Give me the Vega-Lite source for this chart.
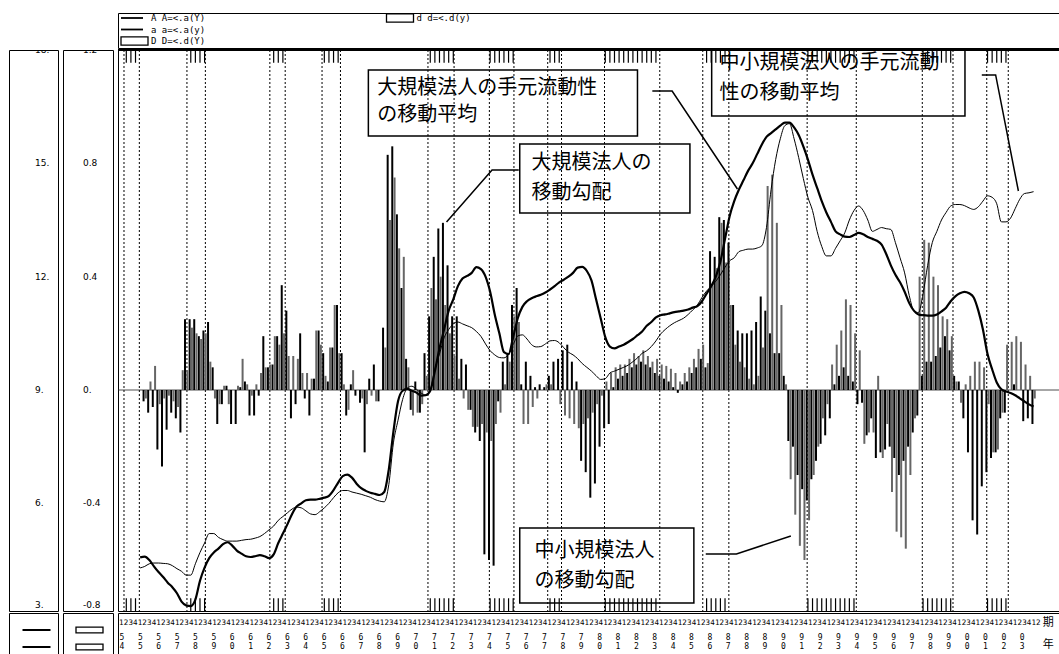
{
"$schema":"https://vega.github.io/schema/vega-lite/v6.json",
"background":"white",
"padding":{"left":8,"top":10,"right":0,"bottom":0},
"bounds":"flush",
"columns":3,
"spacing":{"row":2,"column":5},
"config":{"view":{"stroke":"black","strokeWidth":1}},
"datasets":{
"leg":[{"col":0,"row":0,"sym":"line","lab":"A A=<.a(Y)"},{"col":0,"row":1,"sym":"line","lab":"a a=<.a(y)"},{"col":0,"row":2,"sym":"box","lab":"D D=<.d(Y)"},{"col":1,"row":0,"sym":"box","lab":"d d=<.d(y)"}],
"liqTicks":[{"v":18,"lab":"18."},{"v":15,"lab":"15."},{"v":12,"lab":"12."},{"v":9,"lab":"9."},{"v":6,"lab":"6."},{"v":3,"lab":"3."}],
"grdTicks":[{"v":1.2,"lab":"1.2"},{"v":0.8,"lab":"0.8"},{"v":0.4,"lab":"0.4"},{"v":0,"lab":"0."},{"v":-0.4,"lab":"-0.4"},{"v":-0.8,"lab":"-0.8"}],
"rec":[{"s":1954.0,"e":1954.833},{"s":1957.417,"e":1958.417},{"s":1961.917,"e":1962.75},{"s":1964.75,"e":1965.75},{"s":1970.5,"e":1971.917},{"s":1973.833,"e":1975.167},{"s":1977.0,"e":1977.75},{"s":1980.083,"e":1983.083},{"s":1985.417,"e":1986.833},{"s":1991.083,"e":1993.75},{"s":1997.333,"e":1999.0},{"s":2000.833,"e":2002.0}],
"box":[{"t1":1967.265,"t2":1981.873,"g1":1.1295,"g2":0.8966},{"t1":1985.901,"t2":1999.65,"g1":1.2,"g2":0.9672},{"t1":1975.482,"t2":1984.72,"g1":0.8683,"g2":0.6248},{"t1":1975.482,"t2":1984.934,"g1":-0.4871,"g2":-0.7519}],
"ann":[{"t":1967.749,"g":1.066,"txt":"大規模法人の手元流動性"},{"t":1967.749,"g":0.9707,"txt":"の移動平均"},{"t":1986.331,"g":1.1543,"txt":"中小規模法人の手元流動"},{"t":1986.331,"g":1.0484,"txt":"性の移動平均"},{"t":1976.127,"g":0.8013,"txt":"大規模法人の"},{"t":1976.127,"g":0.6954,"txt":"移動勾配"},{"t":1976.288,"g":-0.5683,"txt":"中小規模法人"},{"t":1976.288,"g":-0.6742,"txt":"の移動勾配"}],
"ptr":[{"id":1,"o":0,"t":1982.679,"g":1.0554},{"id":1,"o":1,"t":1983.753,"g":1.0554},{"id":1,"o":2,"t":1987.298,"g":0.7095},{"id":2,"o":0,"t":2000.563,"g":1.1119},{"id":2,"o":1,"t":2001.315,"g":1.1119},{"id":2,"o":2,"t":2002.55,"g":0.7024},{"id":3,"o":0,"t":1975.428,"g":0.7766},{"id":3,"o":1,"t":1973.979,"g":0.7766},{"id":3,"o":2,"t":1971.508,"g":0.593},{"id":4,"o":0,"t":1985.579,"g":-0.5789},{"id":4,"o":1,"t":1987.244,"g":-0.5789},{"id":4,"o":2,"t":1990.198,"g":-0.5154}],
"hdr":[{"t":2003.9,"lab":"期","row":0},{"t":2003.9,"lab":"年","row":1}],
"yrs":[{"yr":1954,"lab":"5\n4"},{"yr":1955,"lab":"5\n5"},{"yr":1956,"lab":"5\n6"},{"yr":1957,"lab":"5\n7"},{"yr":1958,"lab":"5\n8"},{"yr":1959,"lab":"5\n9"},{"yr":1960,"lab":"6\n0"},{"yr":1961,"lab":"6\n1"},{"yr":1962,"lab":"6\n2"},{"yr":1963,"lab":"6\n3"},{"yr":1964,"lab":"6\n4"},{"yr":1965,"lab":"6\n5"},{"yr":1966,"lab":"6\n6"},{"yr":1967,"lab":"6\n7"},{"yr":1968,"lab":"6\n8"},{"yr":1969,"lab":"6\n9"},{"yr":1970,"lab":"7\n0"},{"yr":1971,"lab":"7\n1"},{"yr":1972,"lab":"7\n2"},{"yr":1973,"lab":"7\n3"},{"yr":1974,"lab":"7\n4"},{"yr":1975,"lab":"7\n5"},{"yr":1976,"lab":"7\n6"},{"yr":1977,"lab":"7\n7"},{"yr":1978,"lab":"7\n8"},{"yr":1979,"lab":"7\n9"},{"yr":1980,"lab":"8\n0"},{"yr":1981,"lab":"8\n1"},{"yr":1982,"lab":"8\n2"},{"yr":1983,"lab":"8\n3"},{"yr":1984,"lab":"8\n4"},{"yr":1985,"lab":"8\n5"},{"yr":1986,"lab":"8\n6"},{"yr":1987,"lab":"8\n7"},{"yr":1988,"lab":"8\n8"},{"yr":1989,"lab":"8\n9"},{"yr":1990,"lab":"9\n0"},{"yr":1991,"lab":"9\n1"},{"yr":1992,"lab":"9\n2"},{"yr":1993,"lab":"9\n3"},{"yr":1994,"lab":"9\n4"},{"yr":1995,"lab":"9\n5"},{"yr":1996,"lab":"9\n6"},{"yr":1997,"lab":"9\n7"},{"yr":1998,"lab":"9\n8"},{"yr":1999,"lab":"9\n9"},{"yr":2000,"lab":"0\n0"},{"yr":2001,"lab":"0\n1"},{"yr":2002,"lab":"0\n2"},{"yr":2003,"lab":"0\n3"}],
"qtr":[
{"t":1954.125,"q":"1","r":1},{"t":1954.375,"q":"2","r":1},{"t":1954.625,"q":"3","r":1},{"t":1954.875,"q":"4","A":4.57,"a":4.29},
{"t":1955.125,"q":"1","A":4.59,"a":4.33,"D":-0.04,"d":-0.03},{"t":1955.375,"q":"2","A":4.5,"a":4.4,"D":-0.08,"d":0.03},{"t":1955.625,"q":"3","A":4.33,"a":4.42,"D":-0.06,"d":0.085},{"t":1955.875,"q":"4","A":4.18,"a":4.42,"D":-0.21,"d":-0.05},
{"t":1956.125,"q":"1","A":4.05,"a":4.41,"D":-0.27,"d":-0.03},{"t":1956.375,"q":"2","A":3.9,"a":4.4,"D":-0.14,"d":-0.02},{"t":1956.625,"q":"3","A":3.78,"a":4.35,"D":-0.08,"d":-0.04},{"t":1956.875,"q":"4","A":3.62,"a":4.27,"D":-0.1,"d":-0.06},
{"t":1957.125,"q":"1","A":3.4,"a":4.2,"D":-0.15,"d":0.07},{"t":1957.375,"q":"2","A":3.3,"a":4.1,"D":0.25,"d":0.07},{"t":1957.625,"q":"3","A":3.28,"a":4.1,"D":0.25,"d":0.22,"r":1},{"t":1957.875,"q":"4","A":3.45,"a":4.4,"D":0.25,"d":0.2,"r":1},
{"t":1958.125,"q":"1","A":3.95,"a":4.7,"D":0.19,"d":0.18,"r":1},{"t":1958.375,"q":"2","A":4.3,"a":4.95,"D":0.21,"d":0.2,"r":1},{"t":1958.625,"q":"3","A":4.55,"a":5.2,"D":0.24,"d":0.1},{"t":1958.875,"q":"4","A":4.7,"a":5.2,"D":0.08,"d":-0.03},
{"t":1959.125,"q":"1","A":4.8,"a":5.1,"D":-0.12,"d":-0.05},{"t":1959.375,"q":"2","A":4.92,"a":5.04,"D":-0.05,"d":0.015},{"t":1959.625,"q":"3","A":4.97,"a":5.0,"D":0.015,"d":-0.05},{"t":1959.875,"q":"4","A":4.88,"a":5.0,"D":-0.12,"d":0},
{"t":1960.125,"q":"1","A":4.75,"a":5.0,"D":-0.12,"d":0.015},{"t":1960.375,"q":"2","A":4.67,"a":5.02,"D":0.01,"d":0.11},{"t":1960.625,"q":"3","A":4.6,"a":5.04,"D":0.03,"d":0.02},{"t":1960.875,"q":"4","A":4.58,"a":5.05,"D":-0.09,"d":-0.02},
{"t":1961.125,"q":"1","A":4.6,"a":5.08,"D":-0.09,"d":0.02},{"t":1961.375,"q":"2","A":4.63,"a":5.12,"D":-0.02,"d":0.06},{"t":1961.625,"q":"3","A":4.6,"a":5.2,"D":0.19,"d":0.08},{"t":1961.875,"q":"4","A":4.55,"a":5.3,"D":0.08,"d":0.09},
{"t":1962.125,"q":"1","A":4.65,"a":5.4,"D":0.09,"d":0.19,"r":1},{"t":1962.375,"q":"2","A":4.95,"a":5.55,"D":0.19,"d":0.16,"r":1},{"t":1962.625,"q":"3","A":5.2,"a":5.65,"D":0.37,"d":0.2,"r":1},{"t":1962.875,"q":"4","A":5.45,"a":5.75,"D":0.28,"d":0.12},
{"t":1963.125,"q":"1","A":5.72,"a":5.85,"D":-0.1,"d":0.12},{"t":1963.375,"q":"2","A":5.92,"a":5.9,"D":-0.05,"d":0.11},{"t":1963.625,"q":"3","A":6.0,"a":5.88,"D":0.2,"d":0.06},{"t":1963.875,"q":"4","A":6.08,"a":5.8,"D":-0.03,"d":0.06},
{"t":1964.125,"q":"1","A":6.1,"a":5.72,"D":-0.09,"d":0.04},{"t":1964.375,"q":"2","A":6.1,"a":5.7,"D":0.04,"d":0.21},{"t":1964.625,"q":"3","A":6.12,"a":5.78,"D":0.21,"d":0.16},{"t":1964.875,"q":"4","A":6.15,"a":5.88,"D":0.13,"d":0.05,"r":1},
{"t":1965.125,"q":"1","A":6.2,"a":6.0,"D":0.03,"d":0.15,"r":1},{"t":1965.375,"q":"2","A":6.35,"a":6.15,"D":0.15,"d":0.3,"r":1},{"t":1965.625,"q":"3","A":6.55,"a":6.28,"D":0.3,"d":0.13,"r":1},{"t":1965.875,"q":"4","A":6.72,"a":6.34,"D":0.13,"d":0.02},
{"t":1966.125,"q":"1","A":6.76,"a":6.34,"D":-0.09,"d":-0.07},{"t":1966.375,"q":"2","A":6.68,"a":6.3,"D":0.02,"d":0.07},{"t":1966.625,"q":"3","A":6.52,"a":6.27,"D":-0.02,"d":0},{"t":1966.875,"q":"4","A":6.4,"a":6.24,"D":-0.045,"d":-0.03},
{"t":1967.125,"q":"1","A":6.33,"a":6.2,"D":-0.22,"d":-0.05},{"t":1967.375,"q":"2","A":6.28,"a":6.16,"D":0.04,"d":-0.02},{"t":1967.625,"q":"3","A":6.25,"a":6.1,"D":0.09,"d":-0.04},{"t":1967.875,"q":"4","A":6.22,"a":6.06,"D":-0.04,"d":0},
{"t":1968.125,"q":"1","A":6.3,"a":6.04,"D":0.22,"d":0.15},{"t":1968.375,"q":"2","A":6.9,"a":6.5,"D":0.83,"d":0.6},{"t":1968.625,"q":"3","A":7.9,"a":7.6,"D":0.86,"d":0.75},{"t":1968.875,"q":"4","A":8.7,"a":8.2,"D":0.62,"d":0.5},
{"t":1969.125,"q":"1","A":8.98,"a":8.75,"D":0.36,"d":0.47},{"t":1969.375,"q":"2","A":9.03,"a":9.05,"D":0.11,"d":0.08},{"t":1969.625,"q":"3","A":8.98,"a":9.1,"D":-0.07,"d":-0.09},{"t":1969.875,"q":"4","A":8.93,"a":9.02,"D":0.03,"d":-0.08},
{"t":1970.125,"q":"1","A":8.85,"a":8.92,"D":-0.08,"d":-0.05},{"t":1970.375,"q":"2","A":8.86,"a":8.87,"D":0.13,"d":0.05},{"t":1970.625,"q":"3","A":8.98,"a":9.0,"D":0.26,"d":0.36,"r":1},{"t":1970.875,"q":"4","A":9.5,"a":9.55,"D":0.47,"d":0.32,"r":1},
{"t":1971.125,"q":"1","A":10.1,"a":9.95,"D":0.57,"d":0.4,"r":1},{"t":1971.375,"q":"2","A":10.6,"a":10.38,"D":0.59,"d":0.3,"r":1},{"t":1971.625,"q":"3","A":11.1,"a":10.6,"D":0.44,"d":0.2,"r":1},{"t":1971.875,"q":"4","A":11.4,"a":10.75,"D":0.26,"d":0.12,"r":1},
{"t":1972.125,"q":"1","A":11.75,"a":10.8,"D":0.26,"d":0.04},{"t":1972.375,"q":"2","A":11.95,"a":10.75,"D":0.11,"d":-0.03},{"t":1972.625,"q":"3","A":12.02,"a":10.7,"D":0.09,"d":-0.07},{"t":1972.875,"q":"4","A":12.1,"a":10.65,"D":-0.07,"d":-0.13},
{"t":1973.125,"q":"1","A":12.25,"a":10.55,"D":-0.15,"d":-0.13},{"t":1973.375,"q":"2","A":12.2,"a":10.42,"D":-0.18,"d":-0.12},{"t":1973.625,"q":"3","A":12.0,"a":10.22,"D":-0.58,"d":-0.15},{"t":1973.875,"q":"4","A":11.6,"a":10.04,"D":-0.6,"d":-0.18,"r":1},
{"t":1974.125,"q":"1","A":11.0,"a":9.93,"D":-0.62,"d":-0.12,"r":1},{"t":1974.375,"q":"2","A":10.5,"a":9.86,"D":-0.04,"d":-0.08,"r":1},{"t":1974.625,"q":"3","A":10.0,"a":9.85,"D":0.1,"d":0.02,"r":1},{"t":1974.875,"q":"4","A":9.95,"a":9.95,"D":0.13,"d":0.1,"r":1},
{"t":1975.125,"q":"1","A":10.4,"a":10.2,"D":0.3,"d":0.26,"r":1},{"t":1975.375,"q":"2","A":10.9,"a":10.43,"D":0.36,"d":0.24},{"t":1975.625,"q":"3","A":11.2,"a":10.46,"D":0.02,"d":-0.12},{"t":1975.875,"q":"4","A":11.35,"a":10.35,"D":0.1,"d":-0.12},
{"t":1976.125,"q":"1","A":11.43,"a":10.2,"D":0.05,"d":-0.06},{"t":1976.375,"q":"2","A":11.48,"a":10.14,"D":0.01,"d":-0.03},{"t":1976.625,"q":"3","A":11.52,"a":10.15,"D":0.02,"d":0},{"t":1976.875,"q":"4","A":11.58,"a":10.22,"D":0.01,"d":0.02},
{"t":1977.125,"q":"1","A":11.66,"a":10.3,"D":0.05,"d":0.02,"r":1},{"t":1977.375,"q":"2","A":11.75,"a":10.31,"D":0.1,"d":0,"r":1},{"t":1977.625,"q":"3","A":11.85,"a":10.25,"D":0.11,"d":-0.05,"r":1},{"t":1977.875,"q":"4","A":11.92,"a":10.12,"D":0.14,"d":-0.09},
{"t":1978.125,"q":"1","A":12.0,"a":10.0,"D":0.16,"d":-0.1},{"t":1978.375,"q":"2","A":12.1,"a":9.93,"D":0.1,"d":-0.12},{"t":1978.625,"q":"3","A":12.24,"a":9.83,"D":0.03,"d":-0.135},{"t":1978.875,"q":"4","A":12.26,"a":9.7,"D":-0.25,"d":-0.12},
{"t":1979.125,"q":"1","A":12.15,"a":9.6,"D":-0.29,"d":-0.1},{"t":1979.375,"q":"2","A":11.9,"a":9.5,"D":-0.38,"d":-0.08},{"t":1979.625,"q":"3","A":11.4,"a":9.38,"D":-0.33,"d":-0.05},{"t":1979.875,"q":"4","A":10.9,"a":9.28,"D":-0.2,"d":-0.02},
{"t":1980.125,"q":"1","A":10.4,"a":9.3,"D":-0.135,"d":0.03,"r":1},{"t":1980.375,"q":"2","A":10.15,"a":9.45,"D":-0.12,"d":0.06,"r":1},{"t":1980.625,"q":"3","A":10.1,"a":9.5,"D":0.01,"d":0.08,"r":1},{"t":1980.875,"q":"4","A":10.15,"a":9.55,"D":0.04,"d":0.09,"r":1},
{"t":1981.125,"q":"1","A":10.2,"a":9.6,"D":0.05,"d":0.09,"r":1},{"t":1981.375,"q":"2","A":10.27,"a":9.66,"D":0.06,"d":0.11,"r":1},{"t":1981.625,"q":"3","A":10.35,"a":9.75,"D":0.08,"d":0.13,"r":1},{"t":1981.875,"q":"4","A":10.45,"a":9.85,"D":0.09,"d":0.12,"r":1},
{"t":1982.125,"q":"1","A":10.55,"a":9.97,"D":0.1,"d":0.14,"r":1},{"t":1982.375,"q":"2","A":10.7,"a":10.04,"D":0.09,"d":0.12,"r":1},{"t":1982.625,"q":"3","A":10.8,"a":10.15,"D":0.08,"d":0.1,"r":1},{"t":1982.875,"q":"4","A":10.92,"a":10.3,"D":0.06,"d":0.11,"r":1},
{"t":1983.125,"q":"1","A":10.98,"a":10.48,"D":0.05,"d":0.09},{"t":1983.375,"q":"2","A":11.0,"a":10.6,"D":0.04,"d":0.085},{"t":1983.625,"q":"3","A":11.03,"a":10.7,"D":0.03,"d":0.075},{"t":1983.875,"q":"4","A":11.06,"a":10.78,"D":0.01,"d":0.06},
{"t":1984.125,"q":"1","A":11.08,"a":10.84,"D":-0.01,"d":0.03},{"t":1984.375,"q":"2","A":11.1,"a":10.9,"D":0.02,"d":0.06},{"t":1984.625,"q":"3","A":11.13,"a":11.0,"D":0.03,"d":0.08},{"t":1984.875,"q":"4","A":11.18,"a":11.12,"D":0.06,"d":0.11},
{"t":1985.125,"q":"1","A":11.22,"a":11.25,"D":0.08,"d":0.145},{"t":1985.375,"q":"2","A":11.35,"a":11.45,"D":0.11,"d":0.16},{"t":1985.625,"q":"3","A":11.55,"a":11.62,"D":0.08,"d":0.095,"r":1},{"t":1985.875,"q":"4","A":11.75,"a":11.74,"D":0.49,"d":0.37,"r":1},
{"t":1986.125,"q":"1","A":12.0,"a":11.88,"D":0.47,"d":0.43,"r":1},{"t":1986.375,"q":"2","A":12.4,"a":12.05,"D":0.61,"d":0.59,"r":1},{"t":1986.625,"q":"3","A":13.0,"a":12.25,"D":0.6,"d":0.45,"r":1},{"t":1986.875,"q":"4","A":13.6,"a":12.42,"D":0.52,"d":0.3},
{"t":1987.125,"q":"1","A":14.0,"a":12.5,"D":0.3,"d":0.16},{"t":1987.375,"q":"2","A":14.3,"a":12.66,"D":0.21,"d":0.1},{"t":1987.625,"q":"3","A":14.55,"a":12.7,"D":0.2,"d":0.08},{"t":1987.875,"q":"4","A":14.8,"a":12.73,"D":0.2,"d":0.04},
{"t":1988.125,"q":"1","A":15.0,"a":12.73,"D":0.21,"d":0.02},{"t":1988.375,"q":"2","A":15.25,"a":12.76,"D":0.24,"d":0.05},{"t":1988.625,"q":"3","A":15.5,"a":12.82,"D":0.33,"d":0.15},{"t":1988.875,"q":"4","A":15.7,"a":13.3,"D":0.28,"d":0.72},
{"t":1989.125,"q":"1","A":15.8,"a":14.3,"D":0.2,"d":0.76},{"t":1989.375,"q":"2","A":15.9,"a":15.1,"D":0.13,"d":0.59},{"t":1989.625,"q":"3","A":16.0,"a":15.65,"D":0.13,"d":0.3},{"t":1989.875,"q":"4","A":16.08,"a":16.0,"D":0.05,"d":0.02},
{"t":1990.125,"q":"1","A":16.08,"a":16.05,"D":-0.18,"d":-0.315},{"t":1990.375,"q":"2","A":15.95,"a":15.65,"D":-0.2,"d":-0.44},{"t":1990.625,"q":"3","A":15.75,"a":15.15,"D":-0.3,"d":-0.55},{"t":1990.875,"q":"4","A":15.45,"a":14.6,"D":-0.35,"d":-0.6},
{"t":1991.125,"q":"1","A":15.1,"a":14.1,"D":-0.39,"d":-0.46,"r":1},{"t":1991.375,"q":"2","A":14.7,"a":13.75,"D":-0.315,"d":-0.3,"r":1},{"t":1991.625,"q":"3","A":14.35,"a":13.2,"D":-0.25,"d":-0.2,"r":1},{"t":1991.875,"q":"4","A":14.0,"a":12.8,"D":-0.19,"d":-0.1,"r":1},
{"t":1992.125,"q":"1","A":13.7,"a":12.55,"D":-0.16,"d":-0.05,"r":1},{"t":1992.375,"q":"2","A":13.45,"a":12.55,"D":-0.1,"d":0.09,"r":1},{"t":1992.625,"q":"3","A":13.2,"a":12.75,"D":0.02,"d":0.16,"r":1},{"t":1992.875,"q":"4","A":13.12,"a":12.95,"D":0.05,"d":0.21,"r":1},
{"t":1993.125,"q":"1","A":13.06,"a":13.16,"D":0.08,"d":0.32,"r":1},{"t":1993.375,"q":"2","A":13.05,"a":13.5,"D":0.05,"d":0.3,"r":1},{"t":1993.625,"q":"3","A":13.1,"a":13.75,"D":0.03,"d":0.2,"r":1},{"t":1993.875,"q":"4","A":13.16,"a":13.87,"D":-0.05,"d":0.14},
{"t":1994.125,"q":"1","A":13.12,"a":13.75,"D":-0.045,"d":-0.19},{"t":1994.375,"q":"2","A":13.05,"a":13.5,"D":-0.16,"d":-0.15},{"t":1994.625,"q":"3","A":13.0,"a":13.2,"D":-0.1,"d":-0.15},{"t":1994.875,"q":"4","A":12.95,"a":13.25,"D":-0.24,"d":0.05},
{"t":1995.125,"q":"1","A":12.85,"a":13.3,"D":-0.22,"d":-0.24},{"t":1995.375,"q":"2","A":12.6,"a":13.27,"D":-0.21,"d":-0.12},{"t":1995.625,"q":"3","A":12.3,"a":13.25,"D":-0.2,"d":-0.36},{"t":1995.875,"q":"4","A":12.05,"a":12.9,"D":-0.24,"d":-0.5},
{"t":1996.125,"q":"1","A":11.85,"a":12.5,"D":-0.3,"d":-0.52},{"t":1996.375,"q":"2","A":11.6,"a":12.1,"D":-0.25,"d":-0.56},{"t":1996.625,"q":"3","A":11.3,"a":11.5,"D":-0.2,"d":-0.3},{"t":1996.875,"q":"4","A":11.1,"a":11.1,"D":-0.15,"d":-0.1},
{"t":1997.125,"q":"1","A":11.0,"a":11.05,"D":-0.09,"d":0.4},{"t":1997.375,"q":"2","A":10.98,"a":11.55,"D":0.05,"d":0.53,"r":1},{"t":1997.625,"q":"3","A":10.97,"a":12.3,"D":0.1,"d":0.52,"r":1},{"t":1997.875,"q":"4","A":10.97,"a":12.9,"D":0.1,"d":0.4,"r":1},
{"t":1998.125,"q":"1","A":11.0,"a":13.2,"D":0.12,"d":0.37,"r":1},{"t":1998.375,"q":"2","A":11.08,"a":13.5,"D":0.15,"d":0.26,"r":1},{"t":1998.625,"q":"3","A":11.18,"a":13.7,"D":0.19,"d":0.25,"r":1},{"t":1998.875,"q":"4","A":11.35,"a":13.87,"D":0.14,"d":0.19,"r":1},
{"t":1999.125,"q":"1","A":11.48,"a":13.91,"D":0.05,"d":0.03},{"t":1999.375,"q":"2","A":11.56,"a":13.91,"D":0.03,"d":-0.045},{"t":1999.625,"q":"3","A":11.6,"a":13.88,"D":-0.1,"d":0.02},{"t":1999.875,"q":"4","A":11.56,"a":13.82,"D":-0.22,"d":0.05},
{"t":2000.125,"q":"1","A":11.45,"a":13.78,"D":-0.46,"d":0.1},{"t":2000.375,"q":"2","A":11.1,"a":13.85,"D":-0.51,"d":0.1},{"t":2000.625,"q":"3","A":10.6,"a":14.0,"D":-0.34,"d":0.08},{"t":2000.875,"q":"4","A":9.95,"a":14.14,"D":-0.29,"d":-0.05,"r":1},
{"t":2001.125,"q":"1","A":9.55,"a":14.1,"D":-0.24,"d":-0.22,"r":1},{"t":2001.375,"q":"2","A":9.2,"a":13.93,"D":-0.22,"d":-0.21,"r":1},{"t":2001.625,"q":"3","A":9.02,"a":13.45,"D":-0.1,"d":-0.08,"r":1},{"t":2001.875,"q":"4","A":8.96,"a":13.45,"D":-0.08,"d":0.16,"r":1},
{"t":2002.125,"q":"1","A":8.92,"a":13.55,"D":0,"d":0.17},{"t":2002.375,"q":"2","A":8.86,"a":13.8,"D":0.02,"d":0.19},{"t":2002.625,"q":"3","A":8.78,"a":14.05,"D":0,"d":0.17},{"t":2002.875,"q":"4","A":8.7,"a":14.2,"D":-0.11,"d":0.09},
{"t":2003.125,"q":"1","A":8.62,"a":14.22,"D":-0.1,"d":0.05},{"t":2003.375,"q":"2","A":8.56,"a":14.25,"D":-0.12,"d":-0.03}
]},
"concat":[
 {"width":49,"height":35,"view":{"stroke":null},"data":{"values":[]},"mark":"point"},
 {"width":50,"height":35,"view":{"stroke":null},"data":{"values":[]},"mark":"point"},
 {"width":942,"height":35,"data":{"name":"leg"},"layer":[
  {"transform":[{"filter":"datum.sym == 'line'"}],"mark":{"type":"point","shape":"M-1,0H1","size":484,"filled":false,"stroke":"black","strokeWidth":1.8,"opacity":1},
   "encoding":{"x":{"field":"col","type":"quantitative","scale":{"domain":[0,1],"range":[14,279.5],"nice":false,"zero":false},"axis":null},
               "y":{"field":"row","type":"quantitative","scale":{"domain":[0,2],"range":[5,28],"nice":false,"zero":false},"axis":null}}},
  {"transform":[{"filter":"datum.sym == 'box'"}],"mark":{"type":"point","shape":"M-1,-0.3H1V0.3H-1Z","size":729,"filled":false,"stroke":"black","strokeWidth":1.3,"opacity":1,"xOffset":2.5},
   "encoding":{"x":{"field":"col","type":"quantitative","scale":{"domain":[0,1],"range":[14,279.5],"nice":false,"zero":false},"axis":null},
               "y":{"field":"row","type":"quantitative","scale":{"domain":[0,2],"range":[5,28],"nice":false,"zero":false},"axis":null}}},
  {"mark":{"type":"text","align":"left","baseline":"middle","dx":19,"font":"DejaVu Sans Mono","fontSize":9,"color":"black"},
   "encoding":{"x":{"field":"col","type":"quantitative","scale":{"domain":[0,1],"range":[14,279.5],"nice":false,"zero":false},"axis":null},
               "y":{"field":"row","type":"quantitative","scale":{"domain":[0,2],"range":[5,28],"nice":false,"zero":false},"axis":null},
               "text":{"field":"lab"}}}
 ]},
 {"width":49,"height":561,"data":{"name":"liqTicks"},"layer":[
  {"transform":[{"filter":"datum.v > 3"}],"mark":{"type":"text","align":"left","dx":1.5,"baseline":"middle","font":"DejaVu Sans","fontSize":9,"clip":true,"color":"black"},
   "encoding":{"y":{"field":"v","type":"quantitative","scale":{"domain":[3.15,18],"nice":false,"zero":false,"clamp":true},"axis":null},"text":{"field":"lab"}}},
  {"transform":[{"filter":"datum.v == 3"}],"mark":{"type":"text","align":"left","dx":1.5,"baseline":"bottom","dy":-1,"font":"DejaVu Sans","fontSize":9,"color":"black"},
   "encoding":{"y":{"field":"v","type":"quantitative","scale":{"domain":[3.15,18],"nice":false,"zero":false,"clamp":true},"axis":null},"text":{"field":"lab"}}}
 ]},
 {"width":50,"height":561,"data":{"name":"grdTicks"},"layer":[
  {"transform":[{"filter":"datum.v > -0.8"}],"mark":{"type":"text","align":"left","dx":-5,"baseline":"middle","font":"DejaVu Sans","fontSize":9,"clip":true,"color":"black"},
   "encoding":{"y":{"field":"v","type":"quantitative","scale":{"domain":[-0.78,1.2],"nice":false,"zero":false,"clamp":true},"axis":null},"text":{"field":"lab"}}},
  {"transform":[{"filter":"datum.v == -0.8"}],"mark":{"type":"text","align":"left","dx":-5,"baseline":"bottom","dy":-1,"font":"DejaVu Sans","fontSize":9,"color":"black"},
   "encoding":{"y":{"field":"v","type":"quantitative","scale":{"domain":[-0.78,1.2],"nice":false,"zero":false,"clamp":true},"axis":null},"text":{"field":"lab"}}}
 ]},
 {"width":942,"height":561,"resolve":{"scale":{"y":"independent"}},"layer":[
  {"data":{"name":"rec"},"mark":{"type":"rule","strokeDash":[2,2],"strokeWidth":1,"color":"black"},
   "encoding":{"x":{"field":"s","type":"quantitative","scale":{"domain":[1953.946,2004.537],"nice":false,"zero":false},"axis":null}}},
  {"data":{"name":"rec"},"mark":{"type":"rule","strokeDash":[2,2],"strokeWidth":1,"color":"black"},
   "encoding":{"x":{"field":"e","type":"quantitative","scale":{"domain":[1953.946,2004.537],"nice":false,"zero":false},"axis":null}}},
  {"data":{"name":"qtr"},"transform":[{"filter":"datum.r == 1"}],"mark":{"type":"rule","strokeWidth":1.2,"color":"black"},
   "encoding":{"x":{"field":"t","type":"quantitative","scale":{"domain":[1953.946,2004.537],"nice":false,"zero":false},"axis":null},
               "y":{"datum":1.2,"scale":{"domain":[-0.78,1.2],"nice":false,"zero":false},"axis":null},"y2":{"datum":1.155}}},
  {"data":{"name":"qtr"},"transform":[{"filter":"datum.r == 1"}],"mark":{"type":"rule","strokeWidth":1.2,"color":"black"},
   "encoding":{"x":{"field":"t","type":"quantitative","scale":{"domain":[1953.946,2004.537],"nice":false,"zero":false},"axis":null},
               "y":{"datum":-0.78,"scale":{"domain":[-0.78,1.2],"nice":false,"zero":false},"axis":null},"y2":{"datum":-0.735}}},
  {"data":{"values":[{}]},"mark":{"type":"rule","strokeWidth":0.8,"color":"#222"},
   "encoding":{"y":{"datum":0,"scale":{"domain":[-0.78,1.2],"nice":false,"zero":false},"axis":null}}},
  {"data":{"values":[{}]},"mark":{"type":"rule","strokeWidth":2,"color":"black"},
   "encoding":{"y":{"datum":1.2,"scale":{"domain":[-0.78,1.2],"nice":false,"zero":false},"axis":null}}},
  {"data":{"name":"qtr"},"mark":{"type":"bar","orient":"vertical","width":2,"xOffset":-1.15,"color":"black"},
   "encoding":{"x":{"field":"t","type":"quantitative","scale":{"domain":[1953.946,2004.537],"nice":false,"zero":false},"axis":null},
               "y":{"field":"D","type":"quantitative","scale":{"domain":[-0.78,1.2],"nice":false,"zero":false},"axis":null}}},
  {"data":{"name":"qtr"},"mark":{"type":"bar","orient":"vertical","width":2,"xOffset":1.15,"color":"#666"},
   "encoding":{"x":{"field":"t","type":"quantitative","scale":{"domain":[1953.946,2004.537],"nice":false,"zero":false},"axis":null},
               "y":{"field":"d","type":"quantitative","scale":{"domain":[-0.78,1.2],"nice":false,"zero":false},"axis":null}}},
  {"data":{"name":"qtr"},"mark":{"type":"line","color":"black","strokeWidth":2.2,"interpolate":"monotone"},
   "encoding":{"x":{"field":"t","type":"quantitative","scale":{"domain":[1953.946,2004.537],"nice":false,"zero":false},"axis":null},
               "y":{"field":"A","type":"quantitative","scale":{"domain":[3.15,18],"nice":false,"zero":false},"axis":null}}},
  {"data":{"name":"qtr"},"mark":{"type":"line","color":"black","strokeWidth":1,"interpolate":"monotone"},
   "encoding":{"x":{"field":"t","type":"quantitative","scale":{"domain":[1953.946,2004.537],"nice":false,"zero":false},"axis":null},
               "y":{"field":"a","type":"quantitative","scale":{"domain":[3.15,18],"nice":false,"zero":false},"axis":null}}},
  {"data":{"name":"box"},"mark":{"type":"rect","fill":"transparent","stroke":"black","strokeWidth":1.5,"clip":true},
   "encoding":{"x":{"field":"t1","type":"quantitative","scale":{"domain":[1953.946,2004.537],"nice":false,"zero":false},"axis":null},"x2":{"field":"t2"},
               "y":{"field":"g1","type":"quantitative","scale":{"domain":[-0.78,1.2],"nice":false,"zero":false},"axis":null},"y2":{"field":"g2"}}},
  {"data":{"name":"ann"},"mark":{"type":"text","align":"left","baseline":"middle","font":"Noto Sans CJK JP","fontSize":20,"color":"black"},
   "encoding":{"x":{"field":"t","type":"quantitative","scale":{"domain":[1953.946,2004.537],"nice":false,"zero":false},"axis":null},
               "y":{"field":"g","type":"quantitative","scale":{"domain":[-0.78,1.2],"nice":false,"zero":false},"axis":null},
               "text":{"field":"txt"}}},
  {"data":{"name":"ptr"},"mark":{"type":"line","color":"black","strokeWidth":1.5},
   "encoding":{"x":{"field":"t","type":"quantitative","scale":{"domain":[1953.946,2004.537],"nice":false,"zero":false},"axis":null},
               "y":{"field":"g","type":"quantitative","scale":{"domain":[-0.78,1.2],"nice":false,"zero":false},"axis":null},
               "detail":{"field":"id"},"order":{"field":"o"}}}
 ]},
 {"width":49,"height":43,"data":{"values":[{"k":"A","i":0},{"k":"a","i":1}]},
  "mark":{"type":"point","shape":"M-1,0H1","size":784,"filled":false,"stroke":"black","strokeWidth":2,"opacity":1,"xOffset":3},
  "encoding":{"y":{"field":"i","type":"quantitative","scale":{"domain":[0,1],"range":[17,34],"nice":false,"zero":false},"axis":null}}},
 {"width":50,"height":43,"data":{"values":[{"k":"D","i":0},{"k":"d","i":1}]},
  "mark":{"type":"point","shape":"M-1,-0.22H1V0.22H-1Z","size":729,"filled":false,"stroke":"black","strokeWidth":1.3,"opacity":1,"xOffset":1.5},
  "encoding":{"y":{"field":"i","type":"quantitative","scale":{"domain":[0,1],"range":[17,34],"nice":false,"zero":false},"axis":null}}},
 {"width":942,"height":44,"resolve":{"scale":{"x":"independent"}},"layer":[
  {"data":{"name":"qtr"},"mark":{"type":"text","font":"DejaVu Sans Mono","fontSize":7.5,"baseline":"middle","dy":-12,"color":"black"},
   "encoding":{"x":{"field":"t","type":"quantitative","scale":{"domain":[1953.946,2004.537],"nice":false,"zero":false},"axis":null},"text":{"field":"q"}}},
  {"data":{"name":"yrs"},"mark":{"type":"text","font":"DejaVu Sans Mono","fontSize":8,"lineBreak":"\n","lineHeight":9,"baseline":"top","dy":-1,"color":"black"},
   "encoding":{"x":{"field":"yr","type":"quantitative","scale":{"domain":[1953.782,2005.06],"nice":false,"zero":false},"axis":null},"text":{"field":"lab"}}},
  {"data":{"name":"hdr"},"transform":[{"filter":"datum.row == 0"}],"mark":{"type":"text","font":"Noto Sans CJK JP","fontSize":11,"baseline":"middle","dy":-12,"color":"black"},
   "encoding":{"x":{"field":"t","type":"quantitative","scale":{"domain":[1953.946,2004.537],"nice":false,"zero":false},"axis":null},"text":{"field":"lab"}}},
  {"data":{"name":"hdr"},"transform":[{"filter":"datum.row == 1"}],"mark":{"type":"text","font":"Noto Sans CJK JP","fontSize":11,"baseline":"middle","dy":10,"color":"black"},
   "encoding":{"x":{"field":"t","type":"quantitative","scale":{"domain":[1953.946,2004.537],"nice":false,"zero":false},"axis":null},"text":{"field":"lab"}}}
 ]}
]
}
